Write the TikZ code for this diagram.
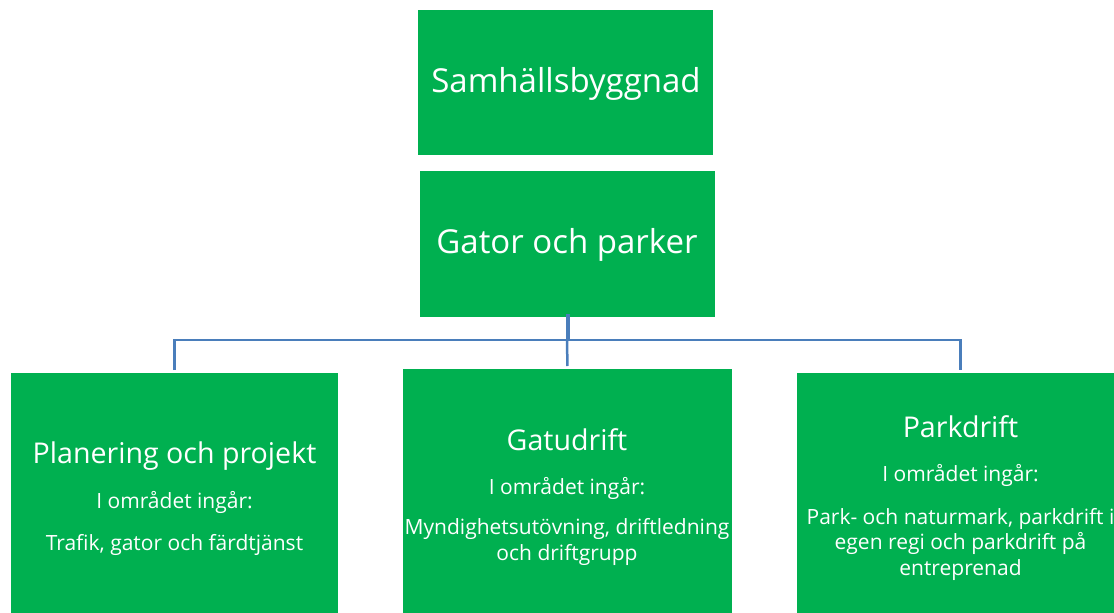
\documentclass[tikz,border=0pt]{standalone}
\usepackage{fontspec}
\setmainfont{Open Sans}
\definecolor{boxgreen}{HTML}{00B050}
\definecolor{connblue}{HTML}{4A7EBB}
\begin{document}
\begin{tikzpicture}[x=1pt,y=-1pt,
  box/.style={fill=boxgreen, draw=none, inner sep=0pt, outer sep=0pt, anchor=north west},
  conn/.style={draw=connblue, line width=2.5pt},
  lbl/.style={text=white, inner sep=0pt, align=center, anchor=center},
  big/.style={lbl, font=\fontsize{33}{39}\selectfont},
  head/.style={lbl, font=\fontsize{28.6}{34}\selectfont},
  small/.style={lbl, font=\fontsize{21}{25.5}\selectfont}]
\useasboundingbox (0,0) rectangle (1114,613);
\clip (0,0) rectangle (1114,613);
% boxes
\node[box, minimum width=295pt, minimum height=145pt] (top) at (418,10) {};
\node[box, minimum width=295pt, minimum height=146pt] (mid) at (420,171) {};
\node[box, minimum width=327pt, minimum height=260pt] (left) at (11,373) {};
\node[box, minimum width=329pt, minimum height=260pt] (center) at (403,369) {};
\node[box, minimum width=327pt, minimum height=260pt] (right) at (797,373) {};
% connectors
\coordinate (bus) at (567,340);
\draw[conn, line width=4pt] ([yshift=3pt]mid.south) -- (mid.south |- bus);
\draw[conn, shorten >=3pt] (bus) -- (center.north);
\draw[conn, shorten <=3pt, shorten >=3pt] (left.north) -- (left.north |- bus) -- (right.north |- bus) -- (right.north);
% texts
\node[big] (ttop) at (566,84) {Samhällsbyggnad};
\node[big] (tmid) at (567,245) {Gator och parker};
\node[head] (tl1) at (174.5,456) {Planering och projekt};
\node[small] (tl2) at (174.5,502) {I området ingår:};
\node[small] (tl3) at (174.5,545) {Trafik, gator och färdtjänst};
\node[head] (tc1) at (567,440) {Gatudrift};
\node[small] (tc2) at (567,488) {I området ingår:};
\node[small] (tc3) at (567,542) {Myndighetsutövning, driftledning\\och driftgrupp};
\node[head] (tr1) at (960.5,427) {Parkdrift};
\node[small] (tr2) at (960.5,475) {I området ingår:};
\node[small] (tr3) at (960.5,544) {Park- och naturmark, parkdrift i\\egen regi och parkdrift på\\entreprenad};
\end{tikzpicture}
\end{document}
